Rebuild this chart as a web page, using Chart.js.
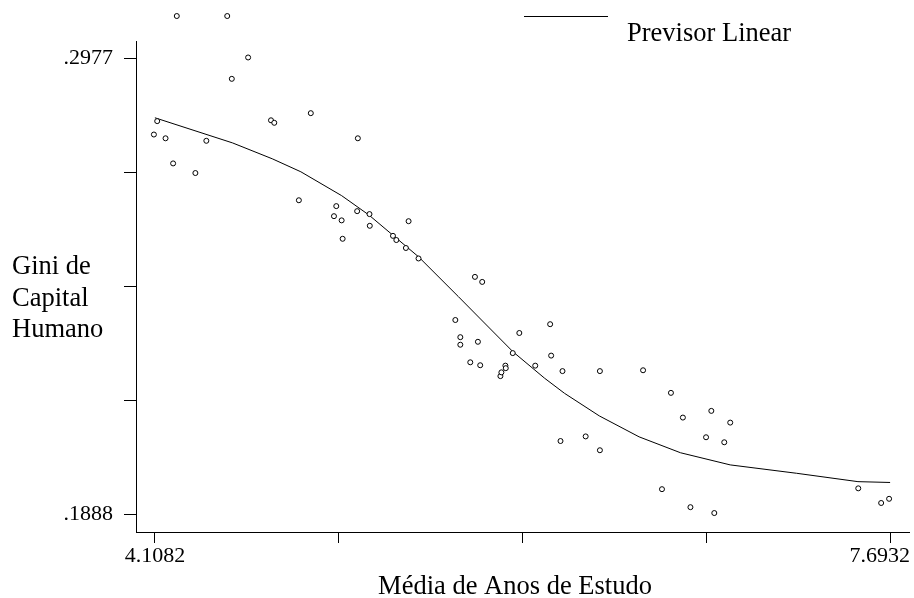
<!DOCTYPE html>
<html>
<head>
<meta charset="utf-8">
<script src="https://cdn.jsdelivr.net/npm/chart.js@4"></script>
<style>
  html, body { margin: 0; padding: 0; background: #fff; }
</style>
</head>
<body>
<canvas id="chart" width="914" height="598"></canvas>
<script>
// observed points (Média de Anos de Estudo, Gini de Capital Humano)
const anosEstudo = [
  4.2149, 4.4609, 4.5627, 4.4832, 4.8684, 4.6743, 4.6903, 4.1194, 4.1033, 4.1601,
  4.3590, 5.0978, 4.1970, 4.3056, 4.8102, 4.9926, 4.9814, 5.0187, 5.0944, 5.1546,
  5.1560, 5.0236, 5.3452, 5.2691, 5.2855, 5.3321, 5.3937, 5.6688, 5.7042, 5.5732,
  5.5975, 5.5975, 5.6833, 5.6460, 5.6945, 5.7930, 5.7978, 5.8172, 5.8191, 5.8532,
  5.8852, 5.9628, 6.0355, 6.0404, 6.0957, 6.2781, 6.4886, 6.0860, 6.2087, 6.2781,
  6.6245, 6.6827, 6.8214, 6.9136, 6.7957, 6.8845, 6.5808, 6.7195, 6.8359, 7.5379,
  7.6495, 7.6883
];
const giniCapital = [
  0.3078, 0.3078, 0.2979, 0.2928, 0.2846, 0.2829, 0.2823, 0.2827, 0.2795, 0.2786,
  0.2780, 0.2786, 0.2726, 0.2703, 0.2638, 0.2624, 0.2600, 0.2590, 0.2612, 0.2605,
  0.2577, 0.2546, 0.2588, 0.2553, 0.2543, 0.2524, 0.2499, 0.2455, 0.2443, 0.2352,
  0.2311, 0.2293, 0.2300, 0.2251, 0.2244, 0.2218, 0.2227, 0.2243, 0.2237, 0.2273,
  0.2321, 0.2243, 0.2342, 0.2267, 0.2230, 0.2230, 0.2232, 0.2063, 0.2074, 0.2041,
  0.2178, 0.2119, 0.2135, 0.2107, 0.2072, 0.2060, 0.1948, 0.1905, 0.1891, 0.1950,
  0.1915, 0.1925
];

// fitted line
const previsorX = [
  4.1082, 4.4866, 4.6806, 4.8199, 5.0187, 5.1512, 5.2628, 5.3937, 5.5878, 5.7008,
  5.8546, 6.0084, 6.1054, 6.2752, 6.4692, 6.6710, 6.9136, 7.2371, 7.5364, 7.6932
];
const previsorY = [
  0.2835, 0.2775, 0.2737, 0.2706, 0.2649, 0.2603, 0.2557, 0.2503, 0.2408, 0.2352,
  0.2276, 0.2213, 0.2177, 0.2123, 0.2073, 0.2035, 0.2006, 0.1986, 0.1966, 0.1964
];

const xTicks = [4.1082, 5.0045, 5.9007, 6.7970, 7.6932];
const xTickLabels = ['4.1082', '', '', '', '7.6932'];
const yTicks = [0.1888, 0.2160, 0.2433, 0.2705, 0.2977];
const yTickLabels = ['.1888', '', '', '', '.2977'];
const yAxisTop = 0.30183; // the vertical axis line stops here, points go above it

const xTitle = 'Média de Anos de Estudo';
const yTitle = ['Gini de', 'Capital', 'Humano'];
const legendLabel = 'Previsor Linear';

const serif = '"Liberation Serif", "Times New Roman", serif';

// y axis line, titles, legend and x tick labels (kept inside the canvas like the original)
const textPlugin = {
  id: 'textPlugin',
  beforeDatasetsDraw(chart) {
    const ctx = chart.ctx;
    const ys = chart.scales.y;
    const x0 = chart.chartArea.left;
    ctx.save();
    ctx.strokeStyle = '#000';
    ctx.lineWidth = 1;
    ctx.beginPath();
    ctx.moveTo(x0 + 0.5, ys.getPixelForValue(yAxisTop));
    ctx.lineTo(x0 + 0.5, chart.chartArea.bottom);
    ctx.stroke();
    ctx.restore();
  },
  afterDraw(chart) {
    const ctx = chart.ctx;
    const xs = chart.scales.x;
    ctx.save();
    ctx.fillStyle = '#000';
    ctx.strokeStyle = '#000';

    ctx.font = '22px ' + serif;
    ctx.textAlign = 'center';
    ctx.textBaseline = 'alphabetic';
    xTicks.forEach((v, i) => {
      const lbl = xTickLabels[i];
      if (!lbl) return;
      const w = ctx.measureText(lbl).width;
      let px = xs.getPixelForValue(v);
      px = Math.min(px, chart.width - 4 - w / 2);
      ctx.fillText(lbl, px, 562);
    });

    ctx.font = '26.5px ' + serif;
    ctx.textAlign = 'left';
    yTitle.forEach((t, i) => ctx.fillText(t, 12, 274 + i * 31.5));

    ctx.textAlign = 'center';
    ctx.fillText(xTitle, 515, 594);

    ctx.lineWidth = 1;
    ctx.beginPath();
    ctx.moveTo(524, 16.5);
    ctx.lineTo(608, 16.5);
    ctx.stroke();
    ctx.textAlign = 'left';
    ctx.fillText(legendLabel, 627, 40.5);
    ctx.restore();
  }
};

new Chart(document.getElementById('chart'), {
  type: 'scatter',
  data: {
    datasets: [
      {
        label: 'Observado',
        data: anosEstudo.map((x, i) => ({ x: x, y: giniCapital[i] })),
        pointStyle: 'circle',
        pointRadius: 2.5,
        pointBorderWidth: 1,
        pointBorderColor: '#000',
        pointBackgroundColor: '#fff',
        showLine: false,
        clip: false
      },
      {
        label: legendLabel,
        data: previsorX.map((x, i) => ({ x: x, y: previsorY[i] })),
        showLine: true,
        borderColor: '#000',
        borderWidth: 1,
        pointRadius: 0,
        tension: 0,
        clip: false
      }
    ]
  },
  options: {
    responsive: false,
    animation: false,
    devicePixelRatio: 1,
    layout: { padding: { left: 0, top: 10, right: 1, bottom: 0 } },
    plugins: {
      legend: { display: false },
      tooltip: { enabled: false }
    },
    scales: {
      x: {
        type: 'linear',
        min: 4.01603,
        max: 7.78533,
        afterBuildTicks: s => { s.ticks = xTicks.map(v => ({ value: v })); },
        afterFit: s => { s.height = 66; s.paddingLeft = 0; s.paddingRight = 0; },
        grid: { drawOnChartArea: false, drawTicks: true, tickLength: 11, color: '#000', lineWidth: 1 },
        border: { display: true, color: '#000', width: 1 },
        ticks: { display: false, autoSkip: false }
      },
      y: {
        type: 'linear',
        min: 0.184573,
        max: 0.309239,
        afterBuildTicks: s => { s.ticks = yTicks.map(v => ({ value: v })); },
        afterFit: s => { s.width = 136; s.paddingTop = 0; s.paddingBottom = 0; },
        grid: { drawOnChartArea: false, drawTicks: true, tickLength: 12, color: '#000', lineWidth: 1 },
        border: { display: false },
        ticks: {
          autoSkip: false,
          color: '#000',
          padding: 11,
          font: { family: serif, size: 22 },
          callback: (v, i) => yTickLabels[i]
        }
      }
    }
  },
  plugins: [textPlugin]
});
</script>
</body>
</html>
